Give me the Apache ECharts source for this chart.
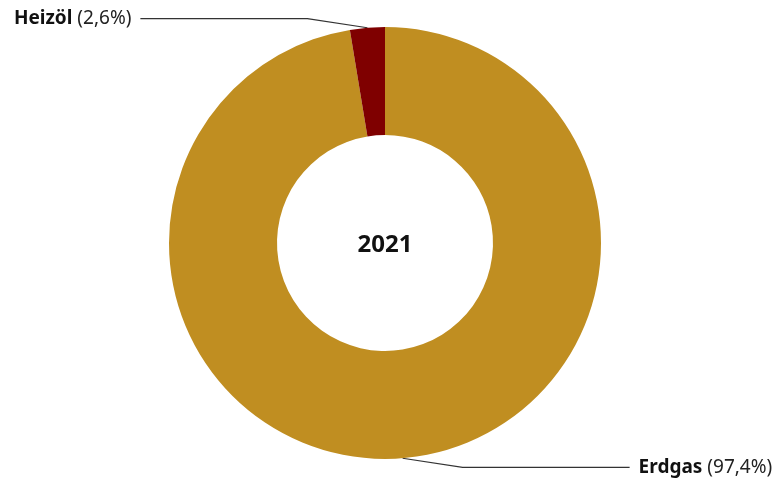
<!DOCTYPE html>
<html>
<head>
<meta charset="utf-8">
<script src="https://cdn.jsdelivr.net/npm/echarts@6/dist/echarts.min.js"></script>
<style>
  html, body { margin: 0; padding: 0; background: #fff; }
  #chart { width: 781px; height: 481px; }
</style>
</head>
<body>
<div id="chart"></div>
<script>
// Energieträger 2021, Anteile in %
var categories = ["Erdgas", "Heizöl"];
var shares = [97.4, 2.6];
var colors = ["#C08E21", "#7F0000"];
var centerLabel = "2021";

var chart = echarts.init(document.getElementById("chart"));

function fmt(v) {
  return String(v).replace(".", ",");
}

chart.setOption({
  backgroundColor: "#FFFFFF",
  animation: false,
  graphic: [
    {
      type: "text",
      x: 385,
      y: 245,
      style: {
        text: centerLabel,
        align: "center",
        verticalAlign: "middle",
        fontFamily: "Noto Sans",
        fontSize: 24,
        fontWeight: "bold",
        fill: "#111"
      }
    }
  ],
  series: [
    {
      type: "pie",
      center: [385, 243],
      radius: [108, 216],
      startAngle: 90,
      clockwise: true,
      data: categories.map(function (name, i) {
        return { name: name, value: shares[i], itemStyle: { color: colors[i] } };
      }),
      label: {
        show: true,
        position: "outside",
        formatter: function (p) {
          return "{n|" + p.name + "}{v|(" + fmt(p.value) + "%)}";
        },
        rich: {
          n: { fontFamily: "Noto Sans", fontSize: 19, fontWeight: "bold", color: "#111" },
          v: { fontFamily: "Noto Sans", fontSize: 19, color: "#222", padding: [0, 0, 0, 5] }
        }
      },
      labelLine: {
        show: true,
        lineStyle: { color: "#333", width: 1.2 }
      },
      labelLayout: function (params) {
        var pts = params.labelLinePoints;
        if (!pts) return {};
        var s = pts[0];
        var left = params.dataIndex === 1;
        var dir = left ? -1 : 1;
        var p1 = [s[0] + dir * 60, left ? s[1] - 9 : s[1] + 9];
        var p2 = [p1[0] + dir * 167, p1[1]];
        return {
          x: p2[0] + dir * 9,
          y: p2[1],
          align: left ? "right" : "left",
          verticalAlign: "middle",
          labelLinePoints: [s, p1, p2]
        };
      }
    }
  ]
});
</script>
</body>
</html>
